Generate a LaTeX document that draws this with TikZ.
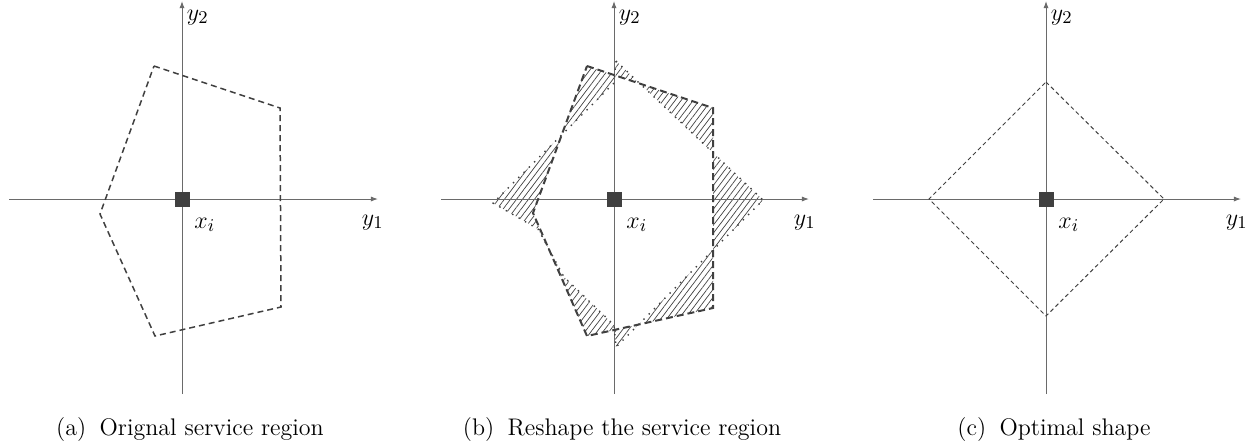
\documentclass[tikz,border=0pt]{standalone}
\usetikzlibrary{arrows.meta,patterns.meta}
\definecolor{axisgray}{HTML}{6A6A6A}
\definecolor{shapegray}{HTML}{404040}
\begin{document}
\begin{tikzpicture}[x=0.5pt,y=-0.5pt,
  axis/.style={draw=axisgray,line width=0.5pt,-{Latex[length=3.6pt,width=2.6pt]}},
  dashA/.style={draw=shapegray,line width=0.75pt,dash pattern=on 3pt off 2pt},
  dashB/.style={draw=shapegray,line width=1pt,dash pattern=on 3.5pt off 2pt},
  dashC/.style={draw=shapegray,line width=0.5pt,dash pattern=on 2pt off 1.5pt},
  dotD/.style={draw=shapegray,line width=0.7pt,dash pattern=on 0.7pt off 3pt},
  hatch/.style={pattern={Lines[angle=53,distance=2.4pt,line width=0.35pt]},pattern color=shapegray},
  site/.style={fill=shapegray,minimum size=7.5pt,inner sep=0pt,draw=none},
  lbl/.style={inner sep=0pt,anchor=base west,font=\fontsize{12.5}{14}\selectfont},
  captext/.style={inner sep=0pt,font=\fontsize{12}{14}\selectfont}]
\useasboundingbox (0,0) rectangle (1257,446);

% ---------------- panel (a)
\begin{scope}[shift={(182,199)}]
  \coordinate (aL) at (-173,0); \coordinate (aR) at (196,0);
  \coordinate (aB) at (0,195);  \coordinate (aT) at (0,-198);
  \draw[axis] (aL) -- (aR);
  \draw[axis] (aB) -- (aT);
  \coordinate (ap1) at (-28,-133); \coordinate (ap2) at (98,-91);
  \coordinate (ap3) at (99,108);   \coordinate (ap4) at (-27,137);
  \coordinate (ap5) at (-82,15);
  \draw[dashA] (ap1) -- (ap2) -- (ap3) -- (ap4) -- (ap5) -- cycle;
  \node[site] (asite) at (0,0) {};
  \node[lbl] (ay2) at (4.5,-179) {$y_2$};
  \node[lbl] (ay1) at (179.5,26) {$y_1$};
  \node[lbl] (axi) at (12,29) {$x_i$};
\end{scope}
\node[captext] (capa) at (190,429) {(a)\hspace{6.7pt}Orignal service region};

% ---------------- panel (b)
\begin{scope}[shift={(614,199)}]
  \coordinate (bp1) at (-27,-133); \coordinate (bp2) at (99,-91);
  \coordinate (bp3) at (99,109);   \coordinate (bp4) at (-27,137);
  \coordinate (bp5) at (-81,14);
  \coordinate (dT) at (2,-138);  \coordinate (dR) at (149,1);
  \coordinate (dB) at (2,148);   \coordinate (dBi) at (0,126);
  \coordinate (dM1) at (-50,78); \coordinate (dM2) at (-76,30);
  \coordinate (dL) at (-121,4);  \coordinate (dTi) at (0,-116);
  \fill[hatch,even odd rule]
    (bp1) -- (bp2) -- (bp3) -- (bp4) -- (bp5) -- cycle
    (dT) -- (dR) -- (dB) -- (dBi) -- (dM1) -- (dM2) -- (dL) -- (dTi) -- cycle;
  \coordinate (bL) at (-173,0); \coordinate (bR) at (195,0);
  \coordinate (bB) at (0,195);  \coordinate (bT) at (0,-198);
  \draw[axis] (bL) -- (bR);
  \draw[axis] (bB) -- (bT);
  \draw[dotD] (dT) -- (dR) -- (dB) -- (dBi) -- (dM1) -- (dM2) -- (dL) -- (dTi) -- cycle;
  \draw[dashB] (bp1) -- (bp2) -- (bp3) -- (bp4) -- (bp5) -- cycle;
  \node[site] (bsite) at (0,0) {};
  \node[lbl] (by2) at (4.5,-179) {$y_2$};
  \node[lbl] (by1) at (179.5,26) {$y_1$};
  \node[lbl] (bxi) at (12,29) {$x_i$};
\end{scope}
\node[captext] (capb) at (622,429) {(b)\hspace{6.7pt}Reshape the service region};

% ---------------- panel (c)
\begin{scope}[shift={(1046,199)}]
  \coordinate (cL) at (-173,0); \coordinate (cR) at (195,0);
  \coordinate (cB) at (0,195);  \coordinate (cT) at (0,-198);
  \draw[axis] (cL) -- (cR);
  \draw[axis] (cB) -- (cT);
  \coordinate (cq1) at (0,-117); \coordinate (cq2) at (118,0);
  \coordinate (cq3) at (0,117);  \coordinate (cq4) at (-117,0);
  \draw[dashC] (cq1) -- (cq2) -- (cq3) -- (cq4) -- cycle;
  \node[site] (csite) at (0,0) {};
  \node[lbl] (cy2) at (4.5,-179) {$y_2$};
  \node[lbl] (cy1) at (179.5,26) {$y_1$};
  \node[lbl] (cxi) at (12,29) {$x_i$};
\end{scope}
\node[captext] (capc) at (1054,429) {(c)\hspace{6.7pt}Optimal shape};
\end{tikzpicture}
\end{document}
